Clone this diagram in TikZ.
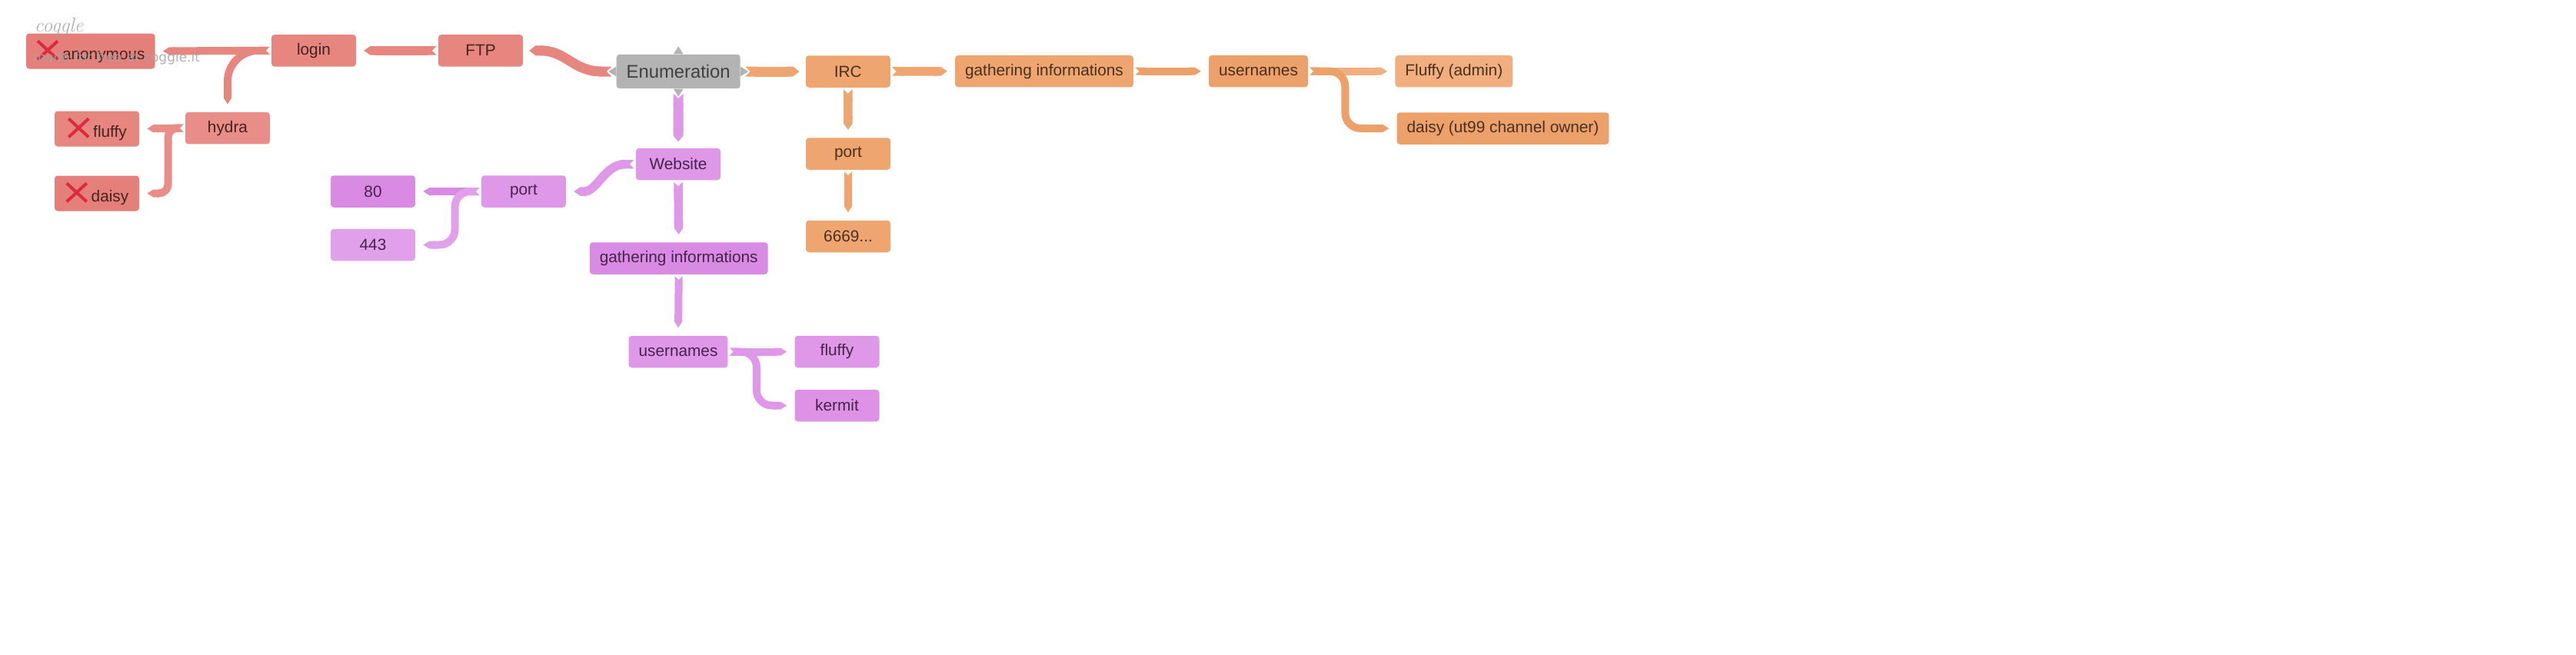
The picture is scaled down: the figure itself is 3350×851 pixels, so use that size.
\documentclass[tikz,border=0pt]{standalone}
\usepackage{fontspec}
\setsansfont{Liberation Sans}
\newfontfamily\symfont{DejaVu Sans}
\usetikzlibrary{arrows.meta,calc}

\definecolor{ftpred}{HTML}{E6867F}
\definecolor{ftpredlt}{HTML}{E88D88}
\definecolor{ftpreddk}{HTML}{E57F79}
\definecolor{redtext}{HTML}{45231F}
\definecolor{ircorange}{HTML}{EFA570}
\definecolor{ircorangedk}{HTML}{ECA06A}
\definecolor{orangetext}{HTML}{4A3020}
\definecolor{webpurple}{HTML}{DF97E7}
\definecolor{webpurpledk}{HTML}{D98BE4}
\definecolor{webpurplelt}{HTML}{E1A1EA}
\definecolor{purpletext}{HTML}{45234C}
\definecolor{enumgray}{HTML}{B3B3B3}
\definecolor{enumtext}{HTML}{404040}
\definecolor{xred}{HTML}{DC2A3F}
\definecolor{markgray}{HTML}{A3A3A3}

\newcommand{\failmark}{\tikz[baseline=0pt]\draw[xred, line width=2pt] (0pt,0pt) -- (13pt,12pt) (0pt,12pt) -- (13pt,0pt);\hspace{2pt}}

\begin{document}
\begin{tikzpicture}[x=0.5pt,y=-0.5pt]
\tikzstyle{topic} = [rectangle, rounded corners=2pt, minimum width=55pt, minimum height=20.75pt, inner xsep=6.5pt, font=\sffamily\fontsize{10.4}{12}\selectfont]
\tikzstyle{enumnode} = [topic, fill=enumgray, text=enumtext, minimum height=22.2pt, font=\sffamily\fontsize{11.9}{13}\selectfont]
\tikzstyle{ftpnode} = [topic, fill=ftpred, text=redtext]
\tikzstyle{failnode} = [ftpnode, fill=ftpreddk, minimum height=23pt]
\tikzstyle{ircnode} = [topic, fill=ircorange, text=orangetext]
\tikzstyle{webnode} = [topic, fill=webpurple, text=purpletext]
\tikzstyle{branch} = [line width=5pt, {Triangle Cap[reversed]}-{Triangle Cap[length=4pt]}, shorten <=1pt, shorten >=5pt]
\tikzstyle{mainbranch} = [branch, line width=6.5pt, shorten <=3pt, shorten >=4pt]

\useasboundingbox (0,0) rectangle (3350,851);

\node[enumnode] (enum) at (882.2,93) {Enumeration};

% FTP side
\node[ftpnode] (ftp) at (625,65.8) {FTP};
\node[ftpnode] (login) at (408,65.8) {login};
\node[failnode] (anon) at (117.8,66.5) {\failmark anonymous};
\node[ftpnode, fill=ftpredlt] (hydra) at (296,166.7) {hydra};
\node[failnode, fill=ftpred] (fluffyx) at (126,167.5) {\failmark fluffy};
\node[failnode] (daisyx) at (126,251.5) {\failmark daisy};

% IRC side
\node[ircnode] (irc) at (1102.8,93) {IRC};
\node[ircnode] (oport) at (1103,200) {port};
\node[ircnode] (o6669) at (1103,307.5) {6669...};
\node[ircnode] (ogather) at (1358,92.7) {gathering informations};
\node[ircnode, fill=ircorangedk] (ousers) at (1636.5,92.7) {usernames};
\node[ircnode, fill=ircorange!90!white] (fadmin) at (1890.8,92.7) {Fluffy (admin)};
\node[ircnode, fill=ircorangedk] (downer) at (1954.5,167) {daisy (ut99 channel owner)};

% Website side
\node[webnode] (web) at (882,213.5) {Website};
\node[webnode] (pport) at (681,249) {port};
\node[webnode, fill=webpurpledk] (p80) at (485,249) {80};
\node[webnode, fill=webpurplelt] (p443) at (485,318.5) {443};
\node[webnode, fill=webpurpledk] (pgather) at (882.7,336) {gathering informations};
\node[webnode] (pusers) at (882,457.5) {usernames};
\node[webnode] (pfluffy) at (1088.5,457.5) {fluffy};
\node[webnode, fill=webpurple!60!webpurpledk] (kermit) at (1088.5,527.5) {kermit};

\foreach \anc/\ang in {north/90,south/-90,west/180,east/0}
  \fill[enumgray] ($(enum.\anc)+(\ang+90:3.2pt)$) -- ($(enum.\anc)+(\ang:5pt)$) -- ($(enum.\anc)+(\ang-90:3.2pt)$) -- cycle;

\draw[mainbranch, ftpred] (enum.west) .. controls +(-28pt,0) and +(28pt,0) .. (ftp.east);
\draw[branch, ftpred, line width=5.75pt] (ftp.west) to (login.east);
\draw[branch, ftpred] (login.west) to (anon.east);
\draw[branch, ftpred, rounded corners=20pt] (login.west) -| (hydra.north);
\draw[branch, ftpredlt] (hydra.west) to (fluffyx.east);
\draw[branch, ftpredlt, rounded corners=6pt] (hydra.west) -- ++(-22,0) |- (daisyx.east);

\draw[mainbranch, ircorange] (enum.east) to (irc.west);
\draw[branch, ircorange, line width=5.75pt] (irc.east) to (ogather.west);
\draw[branch, ircorange, line width=5.75pt] (irc.south) to (oport.north);
\draw[branch, ircorange] (oport.south) to (o6669.north);
\draw[branch, ircorangedk] (ogather.east) to (ousers.west);
\draw[branch, ircorange!90!white] (ousers.east) to (fadmin.west);
\draw[branch, ircorangedk, rounded corners=10pt] (ousers.east) -- ++(48,0) |- (downer.west);

\draw[mainbranch, webpurple] (enum.south) to (web.north);
\draw[branch, webpurple, line width=5.75pt] (web.west) .. controls +(-20pt,0) and +(20pt,0) .. (pport.east);
\draw[branch, webpurple, line width=5.75pt] (web.south) to (pgather.north);
\draw[branch, webpurpledk] (pport.west) to (p80.east);
\draw[branch, webpurplelt, rounded corners=10pt] (pport.west) -- ++(-34,0) |- (p443.east);
\draw[branch, webpurple] (pgather.south) to (pusers.north);
\draw[branch, webpurple] (pusers.east) to (pfluffy.west);
\draw[branch, webpurple, rounded corners=10pt] (pusers.east) -- ++(37,0) |- (kermit.west);

% watermark
\node[anchor=base west, inner sep=0pt, text=markgray, text opacity=0.85, font=\itshape\fontsize{13}{13}\selectfont] (logo) at (44.5,41.3) {coggle};
\node[anchor=base west, inner sep=0pt, text=markgray, text opacity=0.85, font=\symfont\fontsize{8.5}{10}\selectfont] (madefor) at (42.5,80) {made for free at coggle.it};
\end{tikzpicture}
\end{document}
